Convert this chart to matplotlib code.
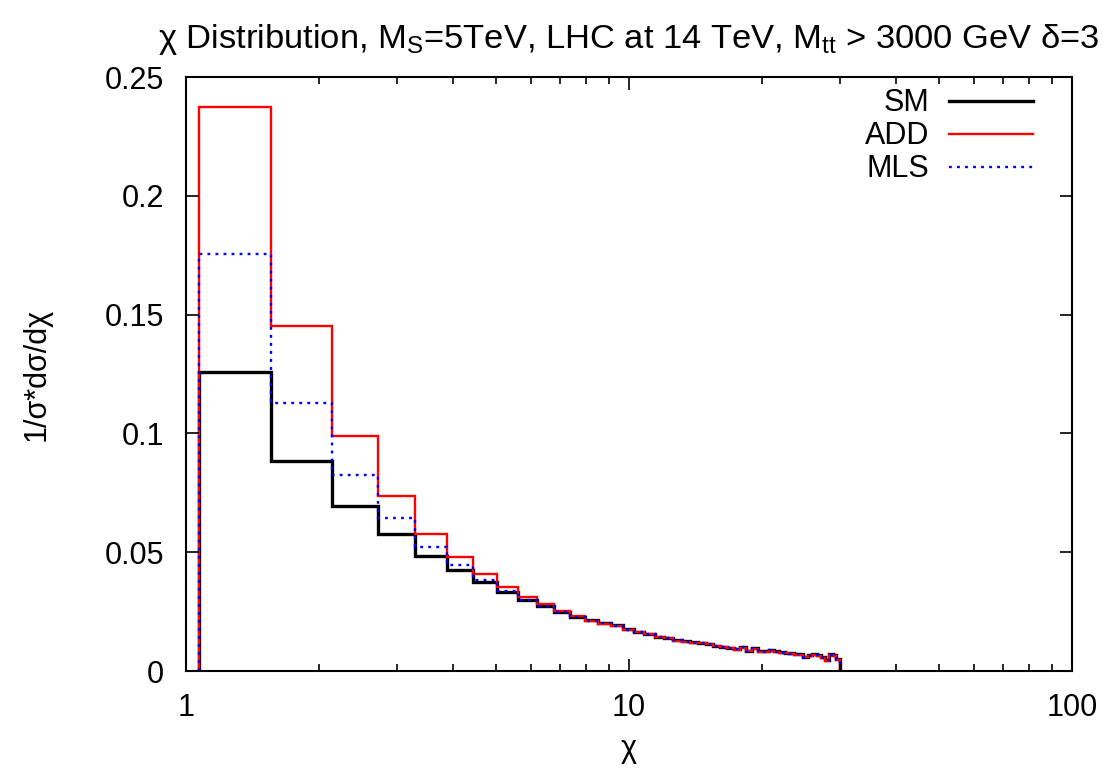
import numpy as np
import matplotlib
matplotlib.use('Agg')
import matplotlib.pyplot as plt
from matplotlib.ticker import FuncFormatter, LogLocator, MultipleLocator

plt.rcParams['font.family'] = ['Liberation Sans', 'DejaVu Sans']
plt.rcParams['mathtext.fontset'] = 'custom'
plt.rcParams['mathtext.rm'] = 'Liberation Sans'
plt.rcParams['mathtext.it'] = 'Liberation Sans:italic'
plt.rcParams['font.size'] = 22

# bin edges in chi (first bin starts at 1.07, then steps of 0.58 up to ~30)
edges = np.concatenate([[1.07], 1.555 + 0.58 * np.arange(50)])

#SM (QCD only)
sm = [0.1257, 0.0884, 0.0696, 0.0575, 0.0485, 0.0425, 0.0373, 0.0332, 0.0299, 0.0275,
      0.0247, 0.0229, 0.0214, 0.0202, 0.0192, 0.0175, 0.0166, 0.0157, 0.0145, 0.0140,
      0.0131, 0.0126, 0.0121, 0.0119, 0.0115, 0.0107, 0.0103, 0.0098, 0.0093, 0.0102,
      0.0086, 0.0098, 0.0083, 0.0083, 0.0089, 0.0083, 0.0079, 0.0077, 0.0075, 0.0072,
      0.0070, 0.0061, 0.0066, 0.0071, 0.0068, 0.0058, 0.0047, 0.0070, 0.0066, 0.0051]

#ADD
add = [0.2373, 0.1453, 0.0990, 0.0735, 0.0577, 0.0480, 0.0408, 0.0352, 0.0313, 0.0281,
       0.0254, 0.0230, 0.0211, 0.0199, 0.0189, 0.0172, 0.0163, 0.0154, 0.0142, 0.0137,
       0.0128, 0.0123, 0.0118, 0.0116, 0.0112, 0.0104, 0.0100, 0.0095, 0.0090, 0.0098,
       0.0083, 0.0094, 0.0080, 0.0080, 0.0086, 0.0080, 0.0076, 0.0074, 0.0072, 0.0069,
       0.0067, 0.0058, 0.0063, 0.0068, 0.0065, 0.0055, 0.0044, 0.0067, 0.0063, 0.0048]

#MLS
mls = [0.1754, 0.1130, 0.0824, 0.0644, 0.0521, 0.0446, 0.0382, 0.0337, 0.0299, 0.0274,
       0.0250, 0.0226, 0.0212, 0.0200, 0.0190, 0.0173, 0.0164, 0.0155, 0.0143, 0.0138,
       0.0129, 0.0124, 0.0119, 0.0117, 0.0113, 0.0105, 0.0101, 0.0096, 0.0091, 0.0099,
       0.0084, 0.0095, 0.0081, 0.0081, 0.0087, 0.0081, 0.0077, 0.0075, 0.0073, 0.0070,
       0.0068, 0.0059, 0.0064, 0.0069, 0.0066, 0.0056, 0.0045, 0.0068, 0.0064, 0.0049]

fig = plt.figure(figsize=(11.18, 7.68), dpi=100)
ax = fig.add_axes([0.1664, 0.1263, 0.9589 - 0.1664, 0.8997 - 0.1263])

ax.stairs(sm, edges, baseline=0, color='black', lw=2.4, label='SM')
ax.stairs(add, edges, baseline=0, color='red', lw=1.7, label='ADD')
ax.stairs(mls, edges, baseline=0, color='blue', lw=1.7, linestyle=(0, (1.2, 2.2)), label='MLS')

ax.set_xscale('log')
ax.set_xlim(1, 100)
ax.set_ylim(0, 0.25)
ax.yaxis.set_major_locator(MultipleLocator(0.05))
ax.xaxis.set_major_locator(LogLocator(base=10))
ax.xaxis.set_minor_locator(LogLocator(base=10, subs=np.arange(2, 10)))
ax.xaxis.set_major_formatter(FuncFormatter(lambda v, p: '%g' % v))
ax.yaxis.set_major_formatter(FuncFormatter(lambda v, p: '%g' % round(v, 3)))
ax.xaxis.set_minor_formatter(FuncFormatter(lambda v, p: ''))

ax.tick_params(which='both', direction='in', top=True, right=True, width=1.2)
ax.tick_params(axis='x', which='major', length=9, pad=16)
ax.tick_params(axis='y', which='major', length=9, pad=16)
ax.tick_params(which='minor', length=5)
for s in ax.spines.values():
    s.set_linewidth(1.5)

ax.set_xlabel('χ', labelpad=8)
ax.set_ylabel('1/σ*dσ/dχ', labelpad=38)
ax.set_title(r'χ Distribution, M$_\mathrm{S}$=5TeV, LHC at 14 TeV, M$_\mathrm{tt}$ > 3000 GeV δ=3',
             pad=21, fontsize=24.8)

ax.legend(loc='upper right', bbox_to_anchor=(0.98, 1.017), frameon=False, markerfirst=False,
          handlelength=2.75, handletextpad=0.65, labelspacing=0.1, borderaxespad=0.3)

plt.savefig('out.png', dpi=100)
